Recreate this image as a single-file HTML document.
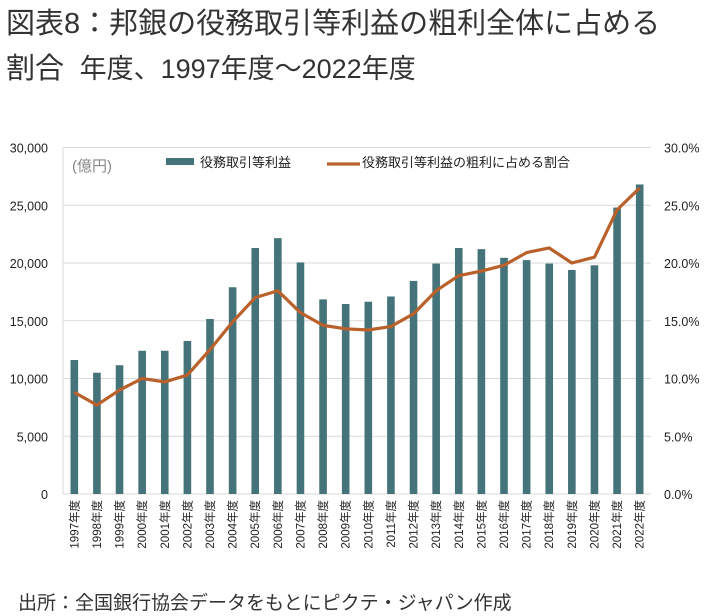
<!DOCTYPE html>
<html><head><meta charset="utf-8"><style>
body{margin:0;width:718px;height:616px;background:#fff;font-family:"Liberation Sans","Noto Sans CJK JP",sans-serif;overflow:hidden;position:relative}
.t{position:absolute;left:6px;color:#333;white-space:nowrap}
</style></head><body>
<div class="t" style="top:0px;font-size:29px">図表8：邦銀の役務取引等利益の粗利全体に占める</div>
<div class="t" style="top:45px;font-size:29px">割合 <span style="font-size:27px">&nbsp;年度、1997年度～2022年度</span></div>
<div class="t" style="top:588px;left:18px;font-size:19px">出所：全国銀行協会データをもとにピクテ・ジャパン作成</div>
<svg id="c" width="718" height="616" style="position:absolute;left:0;top:0"></svg>
<script>
const years=["1997","1998","1999","2000","2001","2002","2003","2004","2005","2006","2007","2008","2009","2010","2011","2012","2013","2014","2015","2016","2017","2018","2019","2020","2021","2022"];
const profit=[11600,10500,11150,12400,12400,13250,15150,17900,21300,22150,20050,16850,16450,16650,17100,18450,19950,21300,21200,20450,20250,19950,19400,19800,24800,26800];
const ratio=[8.8,7.7,9.0,10.0,9.7,10.3,12.5,14.9,17.0,17.6,15.7,14.6,14.3,14.2,14.5,15.6,17.6,18.9,19.3,19.8,20.9,21.3,20.0,20.5,24.6,26.5];
const leftTicks=[0,5000,10000,15000,20000,25000,30000];
const rightTicks=[0,5,10,15,20,25,30];
const NS="http://www.w3.org/2000/svg",svg=document.getElementById('c');
const X0=63,X1=651,Y0=494,Y1=147.5,step=(X1-X0)/years.length;
const xc=i=>X0+step*(i+0.5);
const yl=v=>Y0-(v/30000)*(Y0-Y1);
const yr=v=>Y0-(v/30)*(Y0-Y1);
function mk(t,a,p){const e=document.createElementNS(NS,t);for(const k in a)e.setAttribute(k,a[k]);(p||svg).appendChild(e);return e;}
leftTicks.forEach((v,i)=>{
 const g=mk('line',{x1:X0,x2:X1,y1:yl(v),y2:yl(v),stroke:'#d9d9d9','stroke-width':1});
 
 
 const t=mk('text',{x:48,y:yl(v)+5,'text-anchor':'end','font-size':12.5,fill:'#222'});t.textContent=v.toLocaleString('en-US');
 
 
});
rightTicks.forEach(v=>{
 const t=mk('text',{x:664,y:yr(v)+5,'font-size':12.5,fill:'#222'});t.textContent=v.toFixed(1)+'%';
 
 
});
const ax=mk('line',{x1:X0,x2:X0,y1:Y1,y2:Y0,stroke:'#d9d9d9'});


profit.forEach((v,i)=>{
 const b=mk('rect',{x:xc(i)-3.8,y:yl(v),width:7.6,height:Y0-yl(v),fill:'#447379'});
 
 
 const t=mk('text',{transform:`translate(${xc(i)+4},${500}) rotate(-90)`,'text-anchor':'end','font-size':11.5,fill:'#222'});
 t.textContent=years[i]+'年度';
 
 
});
const pl=mk('polyline',{points:ratio.map((v,i)=>xc(i)+','+yr(v)).join(' '),fill:'none',stroke:'#b9602b','stroke-width':3.2,'stroke-linejoin':'round'});


const u=mk('text',{x:72,y:171,'font-size':15,fill:'#888'});u.textContent='(億円)';


const lb=mk('rect',{x:166,y:158,width:28,height:7,fill:'#447379'});


const lt=mk('text',{x:200,y:167,'font-size':13,fill:'#222'});lt.textContent='役務取引等利益';


const ll=mk('line',{x1:327,x2:360,y1:164,y2:164,stroke:'#b9602b','stroke-width':3.2});


const lt2=mk('text',{x:362,y:167,'font-size':13,fill:'#222'});lt2.textContent='役務取引等利益の粗利に占める割合';


</script>
</body></html>
